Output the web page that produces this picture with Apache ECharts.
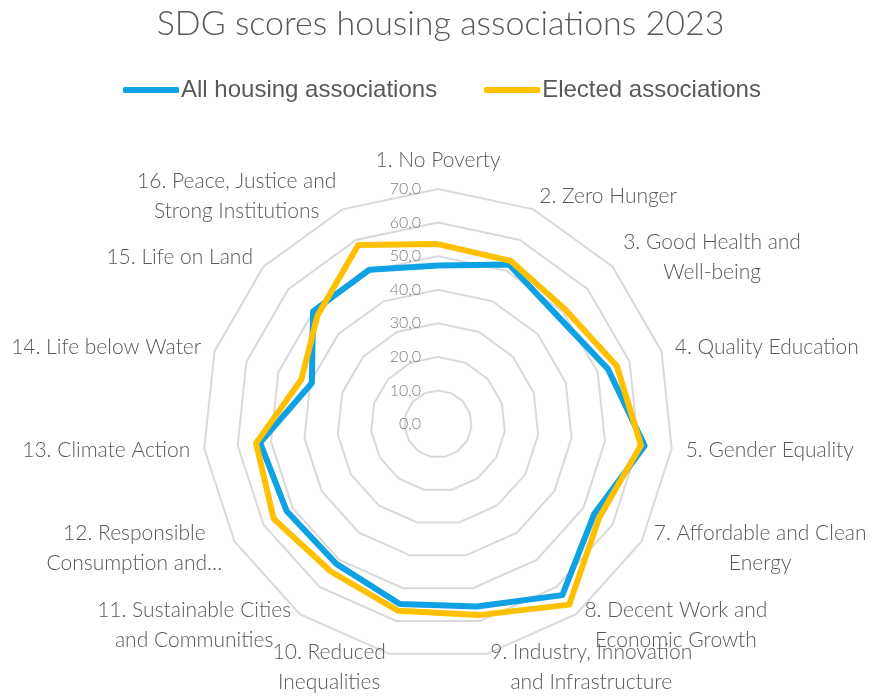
<!DOCTYPE html>
<html>
<head>
<meta charset="utf-8">
<title>SDG scores housing associations 2023</title>
<script src="https://cdn.jsdelivr.net/npm/echarts@6/dist/echarts.min.js"></script>
<style>
  html, body { margin: 0; padding: 0; background: #fff; }
  #chart { width: 881px; height: 697px; }
</style>
</head>
<body>
<div id="chart"></div>
<script>
// SDG goals (no 6 in the source), clockwise from the top
const goals = [
  "1. No Poverty",
  "2. Zero Hunger",
  "3. Good Health and\nWell-being",
  "4. Quality Education",
  "5. Gender Equality",
  "7. Affordable and Clean\nEnergy",
  "8. Decent Work and\nEconomic Growth",
  "9. Industry, Innovation\nand Infrastructure",
  "10. Reduced\nInequalities",
  "11. Sustainable Cities\nand Communities",
  "12. Responsible\nConsumption and…",
  "13. Climate Action",
  "14. Life below Water",
  "15. Life on Land",
  "16. Peace, Justice and\nStrong Institutions"
];
const allAssociations = [47.2, 52.0, 48.0, 53.2, 61.9, 53.7, 63.0, 55.6, 54.8, 51.5, 52.0, 53.3, 39.5, 50.1, 50.3];
const electedAssociations = [53.6, 53.2, 51.0, 56.0, 60.8, 55.5, 66.5, 58.2, 56.9, 54.3, 56.5, 54.5, 42.8, 48.3, 58.4];
const scaleMax = 70;
const scaleStep = 10;

const lightFont = "Lato";
const center = [438, 424];
const radius = 235;
const nameFont = { color: "#595959", fontFamily: lightFont, fontWeight: 300, fontSize: 21, lineHeight: 30 };

// echarts radar runs counter-clockwise, so keep the first goal on top and flip the rest
const clockwise = arr => [arr[0]].concat(arr.slice(1).reverse());

// two-line goal names are centred line by line, like in Excel:
// one rich style per name, as wide as its longest line
const ctx = document.createElement("canvas").getContext("2d");
ctx.font = "300 21px " + lightFont;
const nameRich = {};
const nameKey = {};
goals.forEach((g, i) => {
  if (g.indexOf("\n") < 0) return;
  const w = Math.ceil(Math.max(...g.split("\n").map(l => ctx.measureText(l).width)));
  nameKey[g] = "g" + i;
  nameRich["g" + i] = Object.assign({ width: w, align: "center" }, nameFont);
});

const chart = echarts.init(document.getElementById("chart"));
chart.setOption({
  animation: false,
  title: {
    text: "SDG scores housing associations 2023",
    left: "center",
    top: 2,
    textStyle: {
      fontFamily: lightFont,
      fontWeight: 300,
      fontSize: 34,
      color: "#595959"
    }
  },
  legend: {
    left: 118,
    top: 73,
    itemWidth: 56,
    itemHeight: 6,
    itemGap: 47,
    icon: "roundRect",
    textStyle: {
      fontFamily: "Liberation Sans, Arial",
      fontSize: 24,
      color: "#595959",
      padding: [0, 0, 0, -3]
    },
    data: ["All housing associations", "Elected associations"]
  },
  radar: {
    center: center,
    radius: radius,
    startAngle: 90,
    shape: "polygon",
    splitNumber: scaleMax / scaleStep,
    indicator: clockwise(goals).map(g => ({ name: g, min: 0, max: scaleMax })),
    axisName: Object.assign({
      rich: nameRich,
      formatter: name => nameKey[name]
        ? name.split("\n").map(l => "{" + nameKey[name] + "|" + l + "}").join("\n")
        : name
    }, nameFont),
    nameGap: 14,
    axisLine: { show: false },
    axisTick: { show: false },
    axisLabel: { show: false },
    splitArea: { show: false },
    splitLine: { lineStyle: { color: "#d9d9d9", width: 2 } }
  },
  // polar only to carry the value labels along the first spoke
  polar: { center: center, radius: radius },
  angleAxis: { show: false, startAngle: 90, min: 0, max: 360 },
  radiusAxis: {
    min: 0,
    max: scaleMax,
    interval: scaleStep,
    axisLine: { show: false },
    axisTick: { show: false },
    splitLine: { show: false },
    axisLabel: {
      margin: 17,
      color: "#7f7f7f",
      fontFamily: lightFont,
      fontWeight: 300,
      fontSize: 16,
      formatter: v => v.toFixed(1).replace(".", ",")
    }
  },
  series: [
    {
      type: "radar",
      symbol: "none",
      data: [
        {
          name: "All housing associations",
          value: clockwise(allAssociations),
          lineStyle: { color: "#0ea1e4", width: 6 },
          itemStyle: { color: "#0ea1e4" }
        },
        {
          name: "Elected associations",
          value: clockwise(electedAssociations),
          lineStyle: { color: "#ffc000", width: 6 },
          itemStyle: { color: "#ffc000" }
        }
      ]
    }
  ]
});
</script>
</body>
</html>
